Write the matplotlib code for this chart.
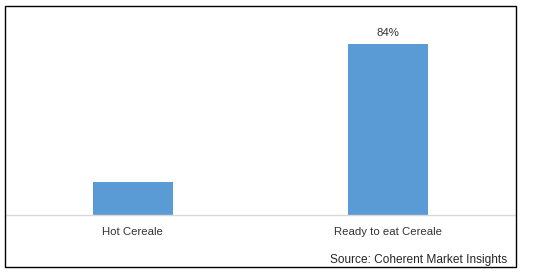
import matplotlib
matplotlib.use("Agg")
import matplotlib.pyplot as plt
from matplotlib.patches import Rectangle

categories = ["Hot Cereale", "Ready to eat Cereale"]
values = [16, 84]
bar_labels = ["", "84%"]
source = "Source: Coherent Market Insights"

W, H = 538, 272
fig = plt.figure(figsize=(W / 100, H / 100), dpi=100)
plt.rcParams['font.family'] = ['Liberation Sans', 'DejaVu Sans']

left, right, top, bottom = 5, 516, 6, 215
ax = fig.add_axes([left / W, (H - bottom) / H, (right - left) / W, (bottom - top) / H])
x = list(range(len(categories)))
bars = ax.bar(x, values, width=0.315, color="#5b9bd5", zorder=2)
ax.set_xlim(-0.5, len(categories) - 0.5)
ax.set_ylim(0, 84 * (bottom - top) / 171)
for b, lab in zip(bars, bar_labels):
    if lab:
        ax.annotate(lab, (b.get_x() + b.get_width() / 2, b.get_height()),
                    xytext=(0, 4.5), textcoords="offset points",
                    ha="center", va="bottom", fontsize=8.2, color="#333333")
for s in ["top", "right", "left"]:
    ax.spines[s].set_visible(False)
ax.spines["bottom"].set_color("#d9d9d9")
ax.spines["bottom"].set_linewidth(1)
ax.set_yticks([])
ax.set_xticks(x)
ax.set_xticklabels(categories, fontsize=8.2, color="#333333")
ax.tick_params(axis="x", length=0, pad=8.5)

fig.text(507 / W, (H - 259.5) / H, source, ha="right", va="center",
         fontsize=8.6, color="#262626")
fig.patches.append(Rectangle((left / W, (H - 267) / H), (right - left) / W, (267 - top) / H,
                             transform=fig.transFigure, fill=False,
                             edgecolor="black", linewidth=1))
fig.savefig("out.png", dpi=100)
